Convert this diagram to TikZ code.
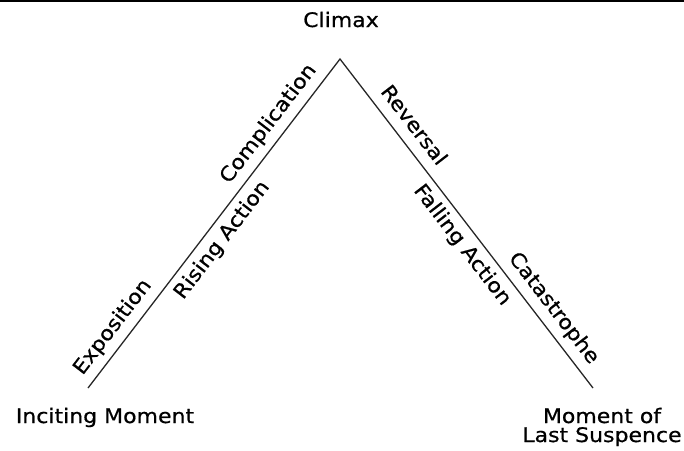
\documentclass[tikz,border=0pt]{standalone}
\usepackage{fontspec}
\setmainfont{DejaVu Sans}[FakeStretch=1.1, FakeBold=0.7]
\begin{document}
\begin{tikzpicture}[x=1pt,y=-1pt,
  lab/.style={font=\fontsize{20}{19}\selectfont, text height=15pt, text depth=4.5pt, inner sep=7pt, sloped, text=black},
  plain/.style={font=\fontsize{20}{19}\selectfont, inner sep=0pt, text=black, align=center},
  arc/.style={line width=1.3pt, draw=black!85}]
\useasboundingbox (0,0) rectangle (684,450);
% top rule
\coordinate (rl) at (0,1);
\coordinate (rr) at (684,1);
\draw[line width=2pt] (rl) -- (rr);
% triangle points
\coordinate (L) at (88,388);
\coordinate (T) at (340,59);
\coordinate (R) at (593,388);
\draw[arc] (L) -- (T) -- (R);
% slope labels
\path (L) -- (T)
  node[lab, pos=0.153, above] (expo) {Exposition}
  node[lab, pos=0.48, below] (rise) {Rising Action}
  node[lab, pos=0.771, above] (comp) {Complication};
\path (T) -- (R)
  node[lab, pos=0.235, above] (rev) {Reversal}
  node[lab, pos=0.535, below] (fall) {Falling Action}
  node[lab, pos=0.79, above] (cat) {Catastrophe};
% end labels
\node[plain, anchor=base] (clim) at (341,27) {Climax};
\node[plain, anchor=base] (inc) at (105,423) {Inciting Moment};
\node[plain, anchor=base] (mom) at (602,423) {Moment of};
\node[plain, anchor=base] (last) at (602,442) {Last Suspence};
\end{tikzpicture}
\end{document}
